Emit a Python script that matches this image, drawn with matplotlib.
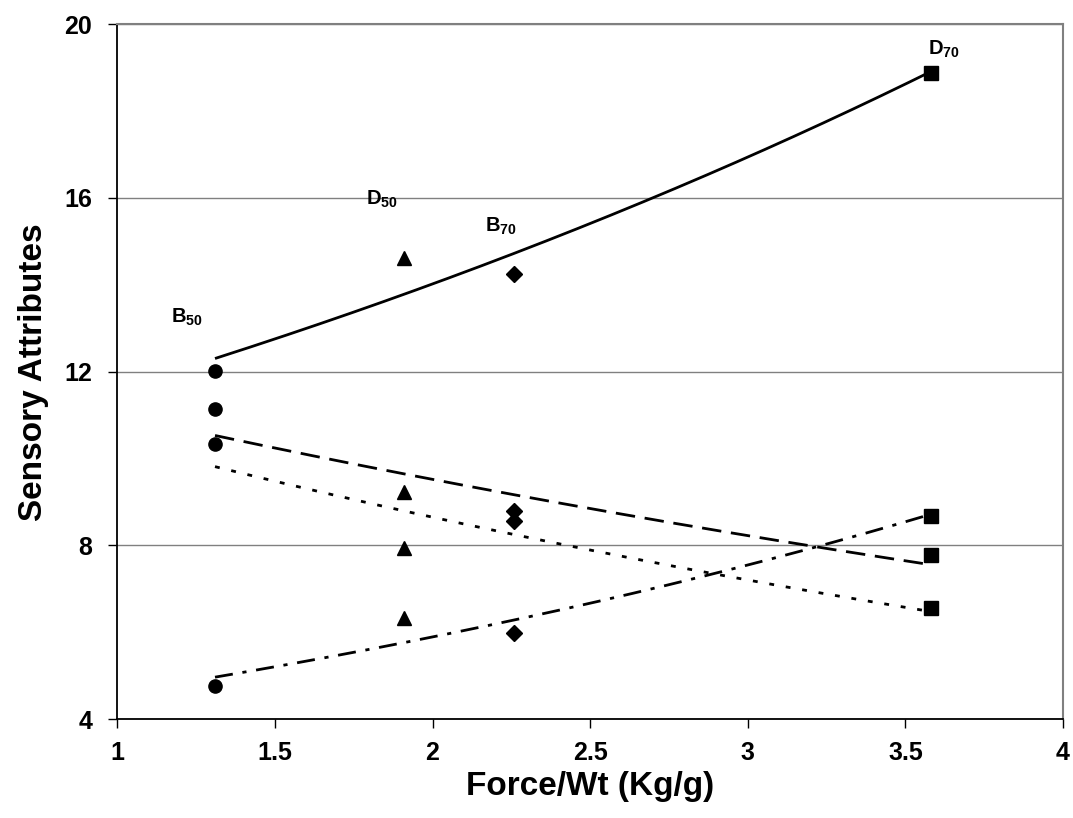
import numpy as np
import matplotlib.pyplot as plt

# values
force = [1.31, 1.91, 2.26, 3.58]            # Force/Wt (Kg/g) for B50, D50, B70, D70
sample_letter = ['B', 'D', 'B', 'D']
sample_sub = ['50', '50', '70', '70']
attr_solid = [12.02, 14.61, 14.24, 18.88]
attr_dash = [11.14, 9.24, 8.79, 7.78]
attr_dot = [10.34, 7.95, 8.57, 6.55]
attr_dashdot = [4.77, 6.34, 5.98, 8.68]

xticks = [1, 1.5, 2, 2.5, 3, 3.5, 4]
xtick_labels = ['1', '1.5', '2', '2.5', '3', '3.5', '4']
yticks = [4, 8, 12, 16, 20]

plt.rcParams['font.family'] = ['Liberation Sans', 'DejaVu Sans']
plt.rcParams['font.weight'] = 'bold'
plt.rcParams['mathtext.fontset'] = 'custom'
plt.rcParams['mathtext.bf'] = 'Liberation Sans:bold'
plt.rcParams['mathtext.rm'] = 'Liberation Sans:bold'
plt.rcParams['lines.scale_dashes'] = False


def exp_trend(x, y):
    # excel style exponential trendline
    b, lna = np.polyfit(x, np.log(y), 1)
    xs = np.linspace(min(x), max(x), 200)
    return xs, np.exp(lna + b * xs)


fig = plt.figure(figsize=(10.73, 8.18), dpi=100)
ax = fig.add_axes([0.1093, 0.1207, 0.8814, 0.8498])

##############################
# trendlines
series = [(attr_solid, (0, ())),
          (attr_dash, (0, (14, 7))),
          (attr_dot, (0, (3.5, 8.5))),
          (attr_dashdot, (0, (13, 7, 3, 7)))]
for vals, ls in series:
    xs, ys = exp_trend(force, vals)
    ax.plot(xs, ys, color='black', lw=2, linestyle=ls, zorder=2)

##############################
# sample markers
markers = ['o', '^', 'D', 's']
msizes = [9.5, 10.5, 7.8, 10]
for i in range(len(force)):
    vals = [attr_solid[i], attr_dash[i], attr_dot[i], attr_dashdot[i]]
    ax.plot([force[i]] * len(vals), vals, ls='none', marker=markers[i],
            ms=msizes[i], color='black', zorder=3)

# sample names
label_xy = [(1.17, 13.13), (1.79, 15.84), (2.168, 15.22), (3.572, 19.29)]
for i in range(len(force)):
    txt = r'$\mathbf{%s}_{\mathbf{%s}}$' % (sample_letter[i], sample_sub[i])
    ax.text(label_xy[i][0], label_xy[i][1], txt, fontsize=14.5,
            ha='left', va='baseline', color='black')

##############################
# axes
ax.set_xlim(1, 4)
ax.set_ylim(4, 20)
ax.set_xticks(xticks)
ax.set_xticklabels(xtick_labels)
ax.set_yticks(yticks)
ax.yaxis.grid(True, color='#808080', lw=1)
ax.set_axisbelow(True)

for s in ['left', 'bottom']:
    ax.spines[s].set_color('black')
    ax.spines[s].set_linewidth(1.3)
for s in ['top', 'right']:
    ax.spines[s].set_color('#808080')
    ax.spines[s].set_linewidth(1.5)

ax.tick_params(direction='out', length=6.5, width=1, labelsize=18)
ax.tick_params(axis='x', pad=9.5)
ax.tick_params(axis='y', pad=11.5)
for lab in ax.get_xticklabels() + ax.get_yticklabels():
    lab.set_fontweight('bold')

ax.set_xlabel('Force/Wt (Kg/g)', fontsize=24, fontweight='bold', labelpad=4)
ax.set_ylabel('Sensory Attributes', fontsize=24, fontweight='bold', labelpad=11)

fig.savefig('out.png', dpi=100)
